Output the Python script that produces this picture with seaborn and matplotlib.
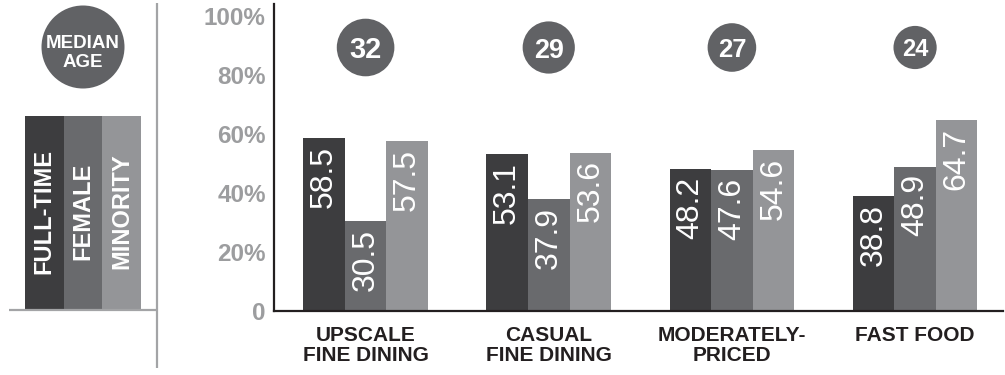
import pandas as pd
import matplotlib
matplotlib.use("Agg")
import matplotlib.pyplot as plt
from matplotlib import font_manager
from matplotlib.patches import Circle, Rectangle
import seaborn as sns

# ---- data ---------------------------------------------------------------
segments = ["UPSCALE\nFINE DINING", "CASUAL\nFINE DINING",
            "MODERATELY-\nPRICED", "FAST FOOD"]
median_age = [32, 29, 27, 24]
full_time = [58.5, 53.1, 48.2, 38.8]
female = [30.5, 37.9, 47.6, 48.9]
minority = [57.5, 53.6, 54.6, 64.7]
series_names = ["FULL-TIME", "FEMALE", "MINORITY"]
y_ticks = [0, 20, 40, 60, 80, 100]
y_tick_labels = ["0", "20%", "40%", "60%", "80%", "100%"]

# ---- styling ------------------------------------------------------------
bar_colors = ["#3d3d3f", "#696a6d", "#949598"]
circle_color = "#616265"
ink = "#231f20"
tick_gray = "#9c9d9f"
rule_gray = "#a3a4a6"

sns.set_theme(style="white")


def first_font(names):
    for n in names:
        try:
            font_manager.findfont(font_manager.FontProperties(family=n),
                                  fallback_to_default=False)
            return n
        except Exception:
            continue
    return None


base_font = first_font(["Liberation Sans", "Arial"]) or "DejaVu Sans"
narrow_font = first_font(["Liberation Sans Narrow"])
plt.rcParams["font.family"] = [base_font, "DejaVu Sans"]

df = pd.DataFrame({
    "segment": segments * 3,
    "series": sum([[s] * len(segments) for s in series_names], []),
    "value": full_time + female + minority,
})

W, H = 1005, 375
fig = plt.figure(figsize=(W / 100, H / 100), dpi=100)

# main chart axes (pixel placement)
x0, x1, y_base, y_top = 274, 1003, 311, 4
ax = fig.add_axes([x0 / W, (H - y_base) / H, (x1 - x0) / W, (y_base - y_top) / H])

sns.barplot(data=df, x="segment", y="value", hue="series",
            order=segments, hue_order=series_names, palette=bar_colors,
            width=0.68, saturation=1, legend=False, errorbar=None,
            linewidth=0, ax=ax)

ax.set_ylim(0, 104)
ax.set_xlim(-0.5, 3.48)
ax.set_xlabel("")
ax.set_ylabel("")
ax.set_yticks(y_ticks)
ax.set_yticklabels(y_tick_labels, fontsize=17.5, fontweight="bold", color=tick_gray)
ax.tick_params(axis="y", length=0, pad=6)
ax.tick_params(axis="x", length=0, pad=11)
for lab in ax.get_xticklabels():
    lab.set_fontsize(15)
    lab.set_fontweight("bold")
    lab.set_color(ink)
    lab.set_linespacing(1.08)
for side in ["top", "right"]:
    ax.spines[side].set_visible(False)
for side in ["left", "bottom"]:
    ax.spines[side].set_color(ink)
    ax.spines[side].set_linewidth(1.6)

# value labels, written downward from the top of each bar
if narrow_font:
    val_family, val_size = [narrow_font, "DejaVu Sans"], 25
else:
    val_family, val_size = [base_font, "DejaVu Sans"], 23
series_values = [full_time, female, minority]
for container, values in zip(ax.containers, series_values):
    for bar, v in zip(container, values):
        ax.annotate(f"{v:.1f}", xy=(bar.get_x() + bar.get_width() / 2, v),
                    xytext=(0, -5.5), textcoords="offset points",
                    ha="center", va="top", rotation=90,
                    family=val_family, fontsize=val_size, color="white")

# median age bubbles above each group
xt = ax.get_xaxis_transform()
bubble_y = (y_base - 47.5) / (y_base - y_top)
sizes = [(1.8 * a * 0.72) ** 2 for a in median_age]
ax.scatter(range(len(segments)), [bubble_y] * len(segments), s=sizes,
           color=circle_color, linewidths=0, transform=xt, clip_on=False, zorder=3)
for i, a in enumerate(median_age):
    ax.text(i, bubble_y, str(a), transform=xt, ha="center", va="center_baseline",
            fontsize=5.5 + 0.48 * a, fontweight="bold", color="white", zorder=4)

# ---- key panel on the left ---------------------------------------------
lax = fig.add_axes([0, 0, 171 / W, 1])
lax.set_xlim(0, 171)
lax.set_ylim(H, 0)
lax.axis("off")

lax.add_patch(Circle((83, 47), 41.5, color=circle_color, lw=0))
lax.text(83, 53, "MEDIAN\nAGE", ha="center", va="center", fontsize=13.5,
         fontweight="bold", color="white", linespacing=1.15)

key_left, key_w, key_top, key_bottom = 25, 38.7, 116, 309
for i, (name, c) in enumerate(zip(series_names, bar_colors)):
    lx = key_left + i * key_w
    lax.add_patch(Rectangle((lx, key_top), key_w, key_bottom - key_top, color=c, lw=0))
    lax.text(lx + key_w / 2, 211, name, rotation=90, ha="center", va="center",
             fontsize=17, fontweight="bold", color="white")

lax.plot([9, 157], [310, 310], color=rule_gray, lw=1.6, solid_capstyle="butt")
lax.plot([157, 157], [3, 368], color=rule_gray, lw=1.6, solid_capstyle="butt")

fig.savefig("out.png", dpi=100, facecolor="white")
